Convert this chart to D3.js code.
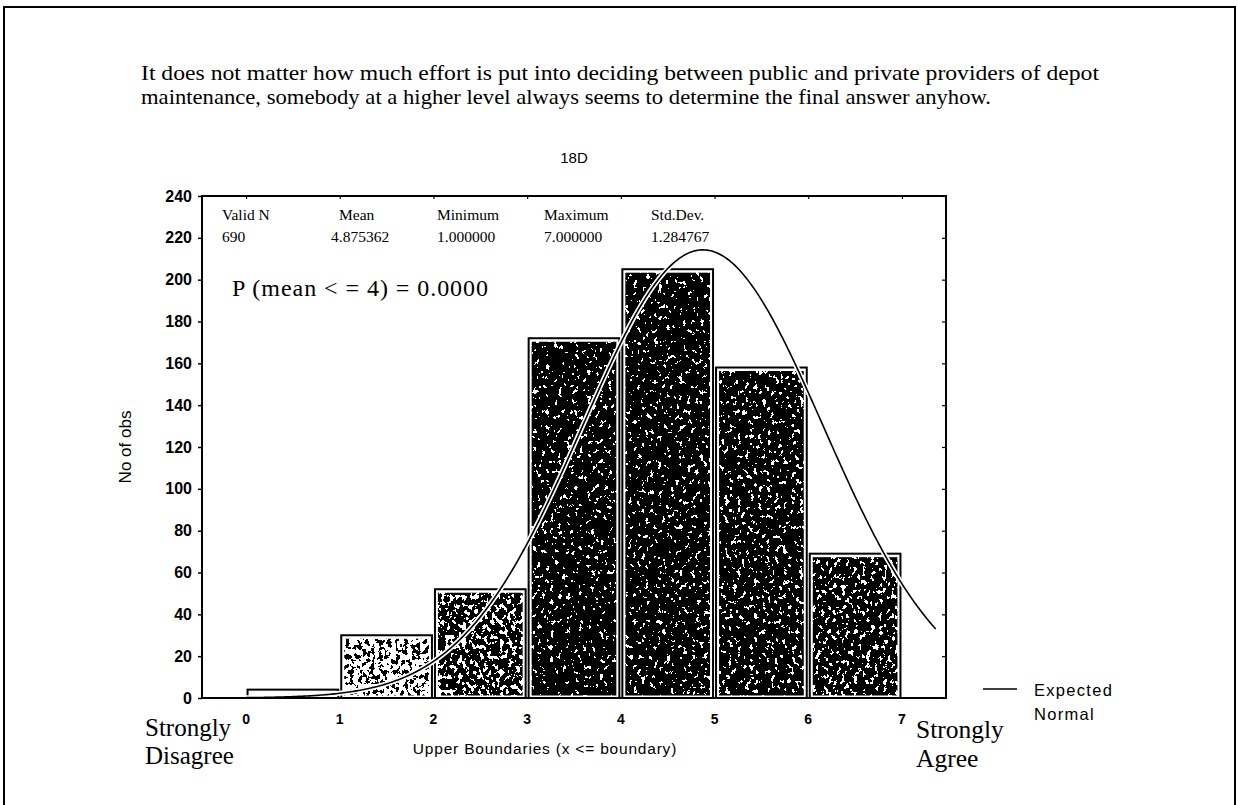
<!DOCTYPE html>
<html>
<head>
<meta charset="utf-8">
<script src="https://cdn.jsdelivr.net/npm/d3@7"></script>
<style>
  html, body { margin: 0; padding: 0; background: #fff; }
  svg { display: block; }
</style>
</head>
<body>
<svg id="chart" width="1238" height="805"></svg>
<script>
// ---- data ----
const questionLines = [
  "It does not matter how much effort is put into deciding between public and private providers of depot",
  "maintenance, somebody at a higher level always seems to determine the final answer anyhow."
];
const chartTitle = "18D";
const responseValues = [1, 2, 3, 4, 5, 6, 7];
const observationCounts = [4, 30, 52, 172, 205, 158, 69];
const boundaryTicks = [0, 1, 2, 3, 4, 5, 6, 7];
const countTicks = [0, 20, 40, 60, 80, 100, 120, 140, 160, 180, 200, 220, 240];
const statNames = ["Valid N", "Mean", "Minimum", "Maximum", "Std.Dev."];
const statValues = ["690", "4.875362", "1.000000", "7.000000", "1.284767"];
const validN = 690;
const sampleMean = 4.875362;
const sampleSD = 1.284767;
const probabilityNote = "P (mean < = 4) = 0.0000";
const yAxisTitle = "No of obs";
const xAxisTitle = "Upper Boundaries (x <= boundary)";
const leftAnchor = ["Strongly", "Disagree"];
const rightAnchor = ["Strongly", "Agree"];
const legendLines = ["Expected", "Normal"];

// ---- styling (kept apart from the data) ----
const shadeLevels = [0, 0.32, 0.7, 0.9, 0.9, 0.88, 0.84]; // share of dark speckle per bar
const serif = "'Liberation Serif', 'Times New Roman', serif";
const sans = "'Liberation Sans', Arial, Helvetica, sans-serif";

const svg = d3.select("#chart");
const plot = { left: 202, right: 946, top: 196, bottom: 698 };

const x = d3.scaleLinear().domain([-0.47, 7.47]).range([plot.left, plot.right]);
const y = d3.scaleLinear().domain([0, 240]).range([plot.bottom, plot.top]);

// outer page frame
svg.append("path")
  .attr("d", "M4,805 L4,7 L1235,7 L1235,805")
  .attr("fill", "none").attr("stroke", "#000").attr("stroke-width", 2);

// question text, fitted to its printed line widths
const lineWidths = [958, 850];
svg.append("g").selectAll("text").data(questionLines).join("text")
  .attr("x", 141).attr("y", (d, i) => 80 + i * 24)
  .attr("font-family", serif).attr("font-size", 21)
  .attr("textLength", (d, i) => lineWidths[i]).attr("lengthAdjust", "spacingAndGlyphs")
  .text(d => d);

svg.append("text")
  .attr("x", (plot.left + plot.right) / 2).attr("y", 163)
  .attr("text-anchor", "middle")
  .attr("font-family", sans).attr("font-size", 15)
  .text(chartTitle);

// speckle filters, one per shade level
const defs = svg.append("defs");
const uniqueShades = Array.from(new Set(shadeLevels.filter(s => s > 0)));
const sigma = 0.12;
const zOf = p => { // approximate inverse normal, used for the noise threshold
  const a = 0.147, ln = Math.log(1 - Math.pow(2 * p - 1, 2));
  const t1 = 2 / (Math.PI * a) + ln / 2;
  const erfinv = Math.sign(2 * p - 1) * Math.sqrt(Math.sqrt(t1 * t1 - ln / a) - t1);
  return Math.SQRT2 * erfinv;
};
uniqueShades.forEach((s, k) => {
  const thr = 0.5 + zOf(s) * sigma;
  const steps = 100;
  const table = d3.range(steps).map(i => (i / steps < thr ? 1 : 0));
  const f = defs.append("filter").attr("id", "speckle" + k)
    .attr("x", 0).attr("y", 0).attr("width", 1).attr("height", 1)
    .attr("filterUnits", "objectBoundingBox");
  f.append("feTurbulence").attr("type", "fractalNoise")
    .attr("baseFrequency", "0.24 0.2").attr("numOctaves", 3).attr("seed", 5 + k).attr("result", "noise");
  f.append("feColorMatrix").attr("in", "noise").attr("type", "matrix")
    .attr("values", "0 0 0 0 0  0 0 0 0 0  0 0 0 0 0  1 0 0 0 0").attr("result", "mask");
  f.append("feComponentTransfer").attr("in", "mask").attr("result", "dots")
    .append("feFuncA").attr("type", "discrete").attr("tableValues", table.join(" "));
  f.append("feComposite").attr("in", "dots").attr("in2", "SourceAlpha").attr("operator", "in");
});
const shadeFilter = s => "url(#speckle" + uniqueShades.indexOf(s) + ")";

// bars
const bars = svg.append("g");
const barData = responseValues.map((v, i) => ({ v, n: observationCounts[i], shade: shadeLevels[i] }));
bars.selectAll("rect.bar").data(barData).join("rect")
  .attr("class", "bar")
  .attr("x", d => x(d.v - 1) + 1.5)
  .attr("width", d => x(d.v) - x(d.v - 1) - 3)
  .attr("y", d => y(d.n))
  .attr("height", d => y(0) - y(d.n))
  .attr("fill", "#fff").attr("stroke", "#000").attr("stroke-width", 2);
bars.selectAll("rect.tex").data(barData.filter(d => d.shade > 0 && y(0) - y(d.n) > 8)).join("rect")
  .attr("class", "tex")
  .attr("x", d => x(d.v - 1) + 4.5)
  .attr("width", d => x(d.v) - x(d.v - 1) - 9)
  .attr("y", d => y(d.n) + 3.5)
  .attr("height", d => y(0) - y(d.n) - 6)
  .attr("fill", "#000")
  .attr("filter", d => shadeFilter(d.shade));

// expected normal curve from the sample statistics
const pdf = t => validN / (sampleSD * Math.sqrt(2 * Math.PI)) * Math.exp(-0.5 * Math.pow((t - sampleMean) / sampleSD, 2));
const curveXs = d3.range(0, 7.37, 0.02);
const line = d3.line().x(t => x(t)).y(t => y(pdf(t)));
svg.append("path").attr("d", line(curveXs))
  .attr("fill", "none").attr("stroke", "#fff").attr("stroke-width", 5);
svg.append("path").attr("d", line(curveXs))
  .attr("fill", "none").attr("stroke", "#000").attr("stroke-width", 1.6);

// plot frame
svg.append("rect")
  .attr("x", plot.left).attr("y", plot.top)
  .attr("width", plot.right - plot.left).attr("height", plot.bottom - plot.top)
  .attr("fill", "none").attr("stroke", "#000").attr("stroke-width", 2);

// y axis
const yAxis = svg.append("g").attr("transform", `translate(${plot.left},0)`)
  .call(d3.axisLeft(y).tickValues(countTicks).tickSize(4).tickPadding(6));
yAxis.select(".domain").remove();
yAxis.selectAll("text").attr("font-family", sans).attr("font-size", 16).attr("font-weight", "bold").attr("fill", "#000");
yAxis.selectAll("line").attr("stroke-width", 1.5);

const yRight = svg.append("g").attr("transform", `translate(${plot.right},0)`)
  .call(d3.axisLeft(y).tickValues(countTicks).tickSize(4).tickFormat(""));
yRight.select(".domain").remove();
yRight.selectAll("line").attr("stroke-width", 1.2);

// small inward ticks along the top border at each boundary
const xTop = svg.append("g").attr("transform", `translate(0,${plot.top})`)
  .call(d3.axisBottom(x).tickValues(boundaryTicks).tickSize(3).tickFormat(""));
xTop.select(".domain").remove();
xTop.selectAll("line").attr("stroke-width", 1.2);

// x tick labels
svg.append("g").selectAll("text").data(boundaryTicks).join("text")
  .attr("x", d => x(d)).attr("y", 724)
  .attr("text-anchor", "middle")
  .attr("font-family", sans).attr("font-size", 14).attr("font-weight", "bold")
  .text(d => d);

// axis titles
svg.append("text")
  .attr("transform", `translate(131,${(plot.top + plot.bottom) / 2}) rotate(-90)`)
  .attr("text-anchor", "middle")
  .attr("font-family", sans).attr("font-size", 17)
  .text(yAxisTitle);
svg.append("text")
  .attr("x", 545).attr("y", 754)
  .attr("text-anchor", "middle")
  .attr("font-family", sans).attr("font-size", 15.5).attr("letter-spacing", 0.8)
  .text(xAxisTitle);

// scale anchors
svg.append("g").selectAll("text").data(leftAnchor).join("text")
  .attr("x", 145).attr("y", (d, i) => 736 + i * 28)
  .attr("font-family", serif).attr("font-size", 25)
  .text(d => d);
svg.append("g").selectAll("text").data(rightAnchor).join("text")
  .attr("x", 916).attr("y", (d, i) => 738 + i * 29)
  .attr("font-family", serif).attr("font-size", 25.5)
  .text(d => d);

// statistics header inside the plot
const statX = [222, 331, 437, 544, 651];
const stats = svg.append("g");
stats.selectAll("text.name").data(statNames).join("text")
  .attr("class", "name").attr("x", (d, i) => statX[i] + (i === 1 ? 8 : 0)).attr("y", 220)
  .attr("font-family", serif).attr("font-size", 15.5).text(d => d);
stats.selectAll("text.val").data(statValues).join("text")
  .attr("class", "val").attr("x", (d, i) => statX[i]).attr("y", 242)
  .attr("font-family", serif).attr("font-size", 15.5).text(d => d);

svg.append("text")
  .attr("x", 232).attr("y", 296)
  .attr("font-family", serif).attr("font-size", 24)
  .attr("textLength", 256).attr("lengthAdjust", "spacing")
  .text(probabilityNote);

// legend
svg.append("line").attr("x1", 983).attr("x2", 1017).attr("y1", 689).attr("y2", 689)
  .attr("stroke", "#000").attr("stroke-width", 1.6);
svg.append("g").selectAll("text").data(legendLines).join("text")
  .attr("x", 1034).attr("y", (d, i) => 696 + i * 24)
  .attr("font-family", sans).attr("font-size", 16.5).attr("letter-spacing", 1.3)
  .text(d => d);
</script>
</body>
</html>
